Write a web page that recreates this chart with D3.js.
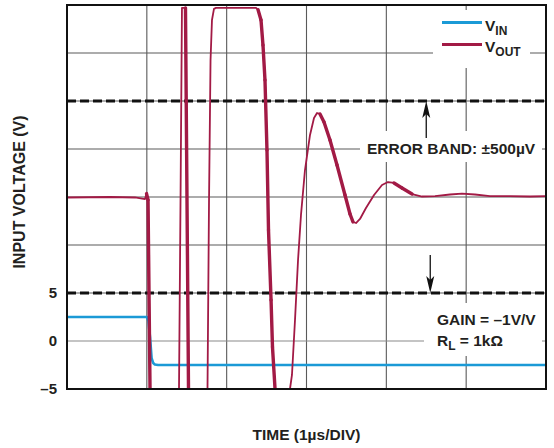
<!DOCTYPE html>
<html>
<head>
<meta charset="utf-8">
<script src="https://cdn.jsdelivr.net/npm/d3@7"></script>
<style>
  html, body { margin: 0; padding: 0; background: #fff; }
  svg { display: block; }
  text { font-family: "Liberation Sans", Arial, sans-serif; font-weight: bold; fill: #231f20; }
</style>
</head>
<body>
<svg id="chart" width="554" height="448"></svg>
<script>
// ---- Data ----
const timeTicks = [0, 1, 2, 3, 4, 5, 6];                 // µs (1 µs/DIV)
const gridLevels = [-5, 0, 5, 10, 15, 20, 25, 30, 35];   // display divisions
const yTickValues = [-5, 0, 5];
const yTickLabels = ["\u20135", "0", "5"];
const errorBand = [5, 25];                               // ±500µV band edges (display units)

const vinTime = [0, 1.0, 1.02, 1.04, 1.06, 1.08, 1.1, 1.14, 6.0];
const vinValue = [2.5, 2.5, 2.1, 0.4, -1.8, -2.3, -2.45, -2.5, -2.5];

const voutTime = [0, 0.539, 0.852, 0.977, 0.996, 1.015, 1.04, 1.403, 1.422, 1.44, 1.484, 1.522,
  1.76, 1.779, 1.798, 1.816, 1.841, 1.866, 2.368, 2.393, 2.43, 2.455, 2.48, 2.505, 2.524, 2.556,
  2.574, 2.606, 2.793, 2.818, 2.856, 2.894, 2.931, 2.981, 3.044, 3.094, 3.132, 3.169, 3.219,
  3.294, 3.382, 3.482, 3.545, 3.582, 3.62, 3.67, 3.745, 3.846, 3.946, 4.021, 4.096, 4.196,
  4.322, 4.447, 4.61, 4.798, 4.948, 5.11, 5.298, 5.549, 5.8, 6.0];
const voutValue = [14.95, 15.0, 14.95, 14.79, 15.36, 14.69, -5, -5, 14.69, 34.7, 34.7, -5,
  -5, 14.69, 29.27, 33.44, 34.6, 34.7, 34.7, 34.5, 33.44, 30.83, 27.19, 19.9, 11.56, 4.27,
  -0.63, -5, -5, -3.54, 2.19, 8.44, 13.13, 17.81, 21.46, 23.23, 23.75, 23.65, 22.81,
  20.94, 18.33, 15.21, 13.23, 12.4, 12.29, 12.71, 13.85, 15.21, 16.25, 16.56, 16.46, 15.94,
  15.31, 15.05, 15.1, 15.26, 15.36, 15.26, 15.1, 15.1, 15.05, 15.1];

const seriesNames = ["IN", "OUT"];
const colors = { vin: "#1b9ad6", vout: "#a21a45" };

// ---- Layout ----
const svg = d3.select("#chart");
const x = d3.scaleLinear().domain([0, 6]).range([67, 546]);
const y = d3.scaleLinear().domain([-5, 35]).range([389, 5]);

const defs = svg.append("defs");
defs.append("clipPath").attr("id", "plotclip")
  .append("rect").attr("x", x(0)).attr("y", y(35) - 1)
  .attr("width", x(6) - x(0)).attr("height", y(-5) - y(35) + 2);

// Grid
const grid = svg.append("g").attr("stroke", "#5a5a5a").attr("stroke-width", 1.1);
grid.selectAll("line.v").data(timeTicks.slice(1, -1)).join("line")
  .attr("x1", d => x(d)).attr("x2", d => x(d)).attr("y1", y(35)).attr("y2", y(-5));
grid.selectAll("line.h").data(gridLevels.slice(1, -1)).join("line")
  .attr("y1", d => y(d)).attr("y2", d => y(d)).attr("x1", x(0)).attr("x2", x(6))
  .attr("stroke", d => d === 0 ? "#8a8a8a" : "#5a5a5a");

// White boxes behind annotations
svg.append("rect").attr("x", 433).attr("y", 10).attr("width", 97).attr("height", 58).attr("fill", "#fff");
svg.append("rect").attr("x", 360).attr("y", 131).attr("width", 182).attr("height", 31).attr("fill", "#fff");
svg.append("rect").attr("x", 424).attr("y", 303).attr("width", 118).attr("height", 53).attr("fill", "#fff");

// Error band dashed lines
svg.append("g").selectAll("line").data(errorBand).join("line")
  .attr("x1", x(0)).attr("x2", x(6)).attr("y1", d => y(d)).attr("y2", d => y(d))
  .attr("stroke", "#111").attr("stroke-width", 3).attr("stroke-dasharray", "9,4");

// Traces
const plot = svg.append("g").attr("clip-path", "url(#plotclip)");
const vinData = vinTime.map((t, i) => [t, vinValue[i]]);
const voutData = voutTime.map((t, i) => [t, voutValue[i]]);
const line = d3.line().x(d => x(d[0])).y(d => y(d[1]));

plot.append("path").datum(vinData).attr("d", line)
  .attr("fill", "none").attr("stroke", colors.vin).attr("stroke-width", 2.6)
  .attr("stroke-linejoin", "round");

plot.append("path").datum(voutData).attr("d", line)
  .attr("fill", "none").attr("stroke", colors.vout).attr("stroke-width", 1.8)
  .attr("stroke-linejoin", "round");

// Thicker falling segments (scope trace is brighter/thicker on falling edges)
const falling = [];
for (let i = 0; i < voutData.length - 1; i++) {
  if (voutData[i + 1][1] < voutData[i][1] - 0.3) falling.push([voutData[i], voutData[i + 1]]);
}
plot.append("g").selectAll("path").data(falling).join("path")
  .attr("d", line).attr("fill", "none").attr("stroke", colors.vout)
  .attr("stroke-width", 3.4).attr("stroke-linecap", "round");

// Arrows
function arrow(xv, tipV, dir, len) {
  const xt = x(xv), yt = y(tipV);
  const g = svg.append("g");
  g.append("line").attr("x1", xt).attr("x2", xt)
    .attr("y1", yt + dir * 12).attr("y2", yt + dir * len)
    .attr("stroke", "#111").attr("stroke-width", 1.3);
  g.append("path")
    .attr("d", `M${xt},${yt} L${xt - 4},${yt + dir * 17} L${xt},${yt + dir * 13} L${xt + 4},${yt + dir * 17} Z`)
    .attr("fill", "#111");
}
arrow(4.5, errorBand[1], 1, 37);
arrow(4.55, errorBand[0], -1, 38);

// Annotations
svg.append("text").attr("x", 367).attr("y", 154).attr("font-size", 15.5).text("ERROR BAND: \u00B1500\u00B5V");
svg.append("text").attr("x", 437).attr("y", 325).attr("font-size", 15.5).text("GAIN = \u20131V/V");
const rl = svg.append("text").attr("x", 437).attr("y", 346).attr("font-size", 15.5);
rl.append("tspan").text("R");
rl.append("tspan").attr("font-size", 12).attr("dy", 4).text("L");
rl.append("tspan").attr("dy", -4).text(" = 1k\u03A9");

// Legend
const legend = svg.append("g");
const legRows = [{ name: seriesNames[0], c: colors.vin, ly: 22.5, ty: 31 },
                 { name: seriesNames[1], c: colors.vout, ly: 44.5, ty: 52 }];
legRows.forEach(r => {
  legend.append("line").attr("x1", 442).attr("x2", 482).attr("y1", r.ly).attr("y2", r.ly)
    .attr("stroke", r.c).attr("stroke-width", 3);
  const t = legend.append("text").attr("x", 485).attr("y", r.ty).attr("font-size", 15.5);
  t.append("tspan").text("V");
  t.append("tspan").attr("font-size", 12).attr("dy", 3.5).text(r.name);
});

// Y tick labels
svg.append("g").selectAll("text").data(yTickValues).join("text")
  .attr("x", 57).attr("y", d => y(d)).attr("dy", "0.36em")
  .attr("text-anchor", "end").attr("font-size", 15)
  .text((d, i) => yTickLabels[i]);

// Axis titles
svg.append("text").attr("transform", `translate(25,${(y(-5) + y(35)) / 2 - 5}) rotate(-90)`)
  .attr("text-anchor", "middle").attr("font-size", 16).text("INPUT VOLTAGE (V)");
svg.append("text").attr("x", (x(0) + x(6)) / 2).attr("y", 440)
  .attr("text-anchor", "middle").attr("font-size", 15.5).text("TIME (1\u00B5s/DIV)");

// Frame
svg.append("rect").attr("x", x(0)).attr("y", y(35)).attr("width", x(6) - x(0)).attr("height", y(-5) - y(35))
  .attr("fill", "none").attr("stroke", "#111").attr("stroke-width", 2);
</script>
</body>
</html>
